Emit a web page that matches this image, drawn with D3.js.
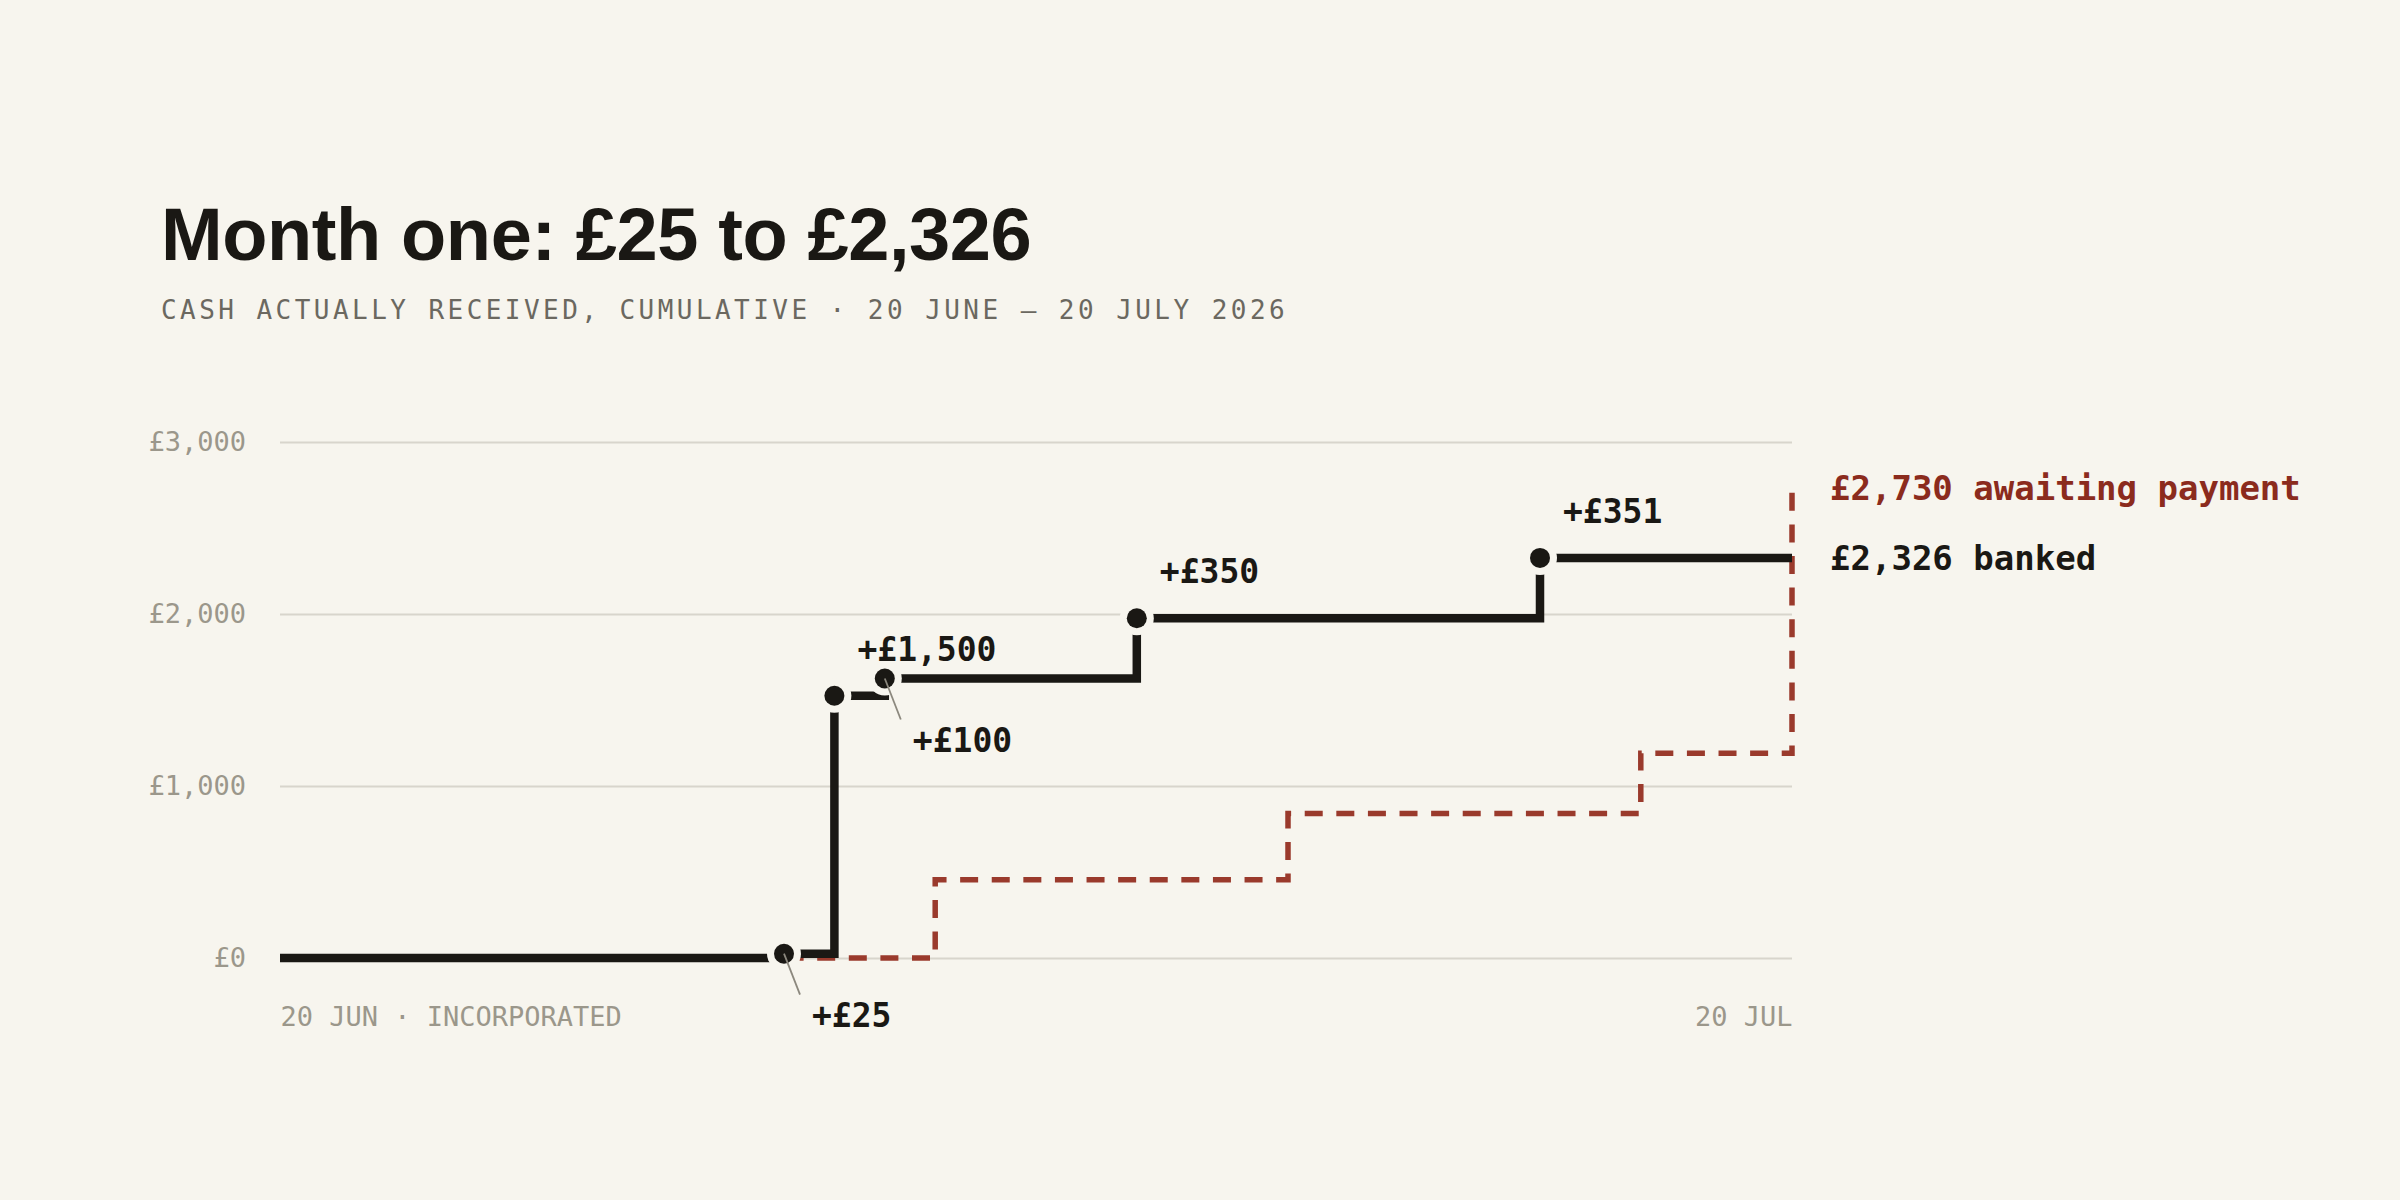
<!DOCTYPE html>
<html>
<head>
<meta charset="utf-8">
<script src="https://cdn.jsdelivr.net/npm/d3@7"></script>
<style>
    html, body { margin: 0; padding: 0; background: #f7f5ee; }
    svg { display: block; }
</style>
</head>
<body>
<svg id="chart" width="2400" height="1200"></svg>
<script>

// banked cash, one row per payment received
var bankedDates = ["2026-06-30", "2026-07-01", "2026-07-02", "2026-07-07", "2026-07-15"];
var bankedAmounts = [25, 1500, 100, 350, 351];
var bankedLabels = ["+£25", "+£1,500", "+£100", "+£350", "+£351"];
// which labels sit under the dot with a leader line
var labelBelow = [true, false, true, false, false];

// invoiced but not yet paid, cumulative
var awaitingDates = ["2026-06-20", "2026-07-03", "2026-07-10", "2026-07-17", "2026-07-20"];
var awaitingTotals = [0, 455, 840, 1190, 2730];

var yTicks = [0, 1000, 2000, 3000];
var startDate = "2026-06-20";
var endDate = "2026-07-20";
var xTickLabels = ["20 JUN · INCORPORATED", "20 JUL"];

var bg = "#f7f5ee";
var ink = "#1a1814";
var red = "#9a3a2c";
var mono = "'DejaVu Sans Mono', monospace";

var parse = d3.timeParse("%Y-%m-%d");
var svg = d3.select("#chart");

var margins = {
    top: 442,
    bottom: 242,
    left: 280,
    right: 608
}
var width = 2400 - margins.left - margins.right;
var height = 1200 - margins.top - margins.bottom;

var x = d3.scaleTime()
    .domain([parse(startDate), parse(endDate)])
    .range([margins.left, margins.left + width]);
var y = d3.scaleLinear()
    .domain([0, 3000])
    .range([margins.top + height, margins.top]);

svg.append("rect")
    .attr("width", 2400)
    .attr("height", 1200)
    .attr("fill", bg);

//title
svg.append("text")
    .attr("x", 161)
    .attr("y", 260)
    .style("font-family", "'Helvetica Neue', Helvetica, Arial, 'Liberation Sans', sans-serif")
    .style("font-size", "74px")
    .style("font-weight", "700")
    .style("letter-spacing", "-0.4px")
    .attr("fill", ink)
    .text("Month one: £25 to £2,326");

svg.append("text")
    .attr("x", 161)
    .attr("y", 319)
    .style("font-family", mono)
    .style("font-size", "26px")
    .style("letter-spacing", "3.45px")
    .attr("fill", "#6b6860")
    .text("CASH ACTUALLY RECEIVED, CUMULATIVE · 20 JUNE — 20 JULY 2026");

// y gridlines + labels
var yAxis = svg.append("g")
    .attr("transform", "translate(" + margins.left + ",0)")
    .call(d3.axisLeft(y)
        .tickValues(yTicks)
        .tickSize(-width)
        .tickPadding(34)
        .tickFormat(d => "£" + d3.format(",")(d)));
yAxis.select(".domain").remove();
yAxis.selectAll(".tick line")
    .attr("stroke", "#d8d5cc")
    .attr("stroke-width", 2);
yAxis.selectAll(".tick text")
    .style("font-family", mono)
    .style("font-size", "27px")
    .attr("fill", "#9b978b");

// x labels, only the two ends
var xAxis = svg.append("g")
    .attr("transform", "translate(0," + (margins.top + height) + ")")
    .call(d3.axisBottom(x)
        .tickValues([parse(startDate), parse(endDate)])
        .tickSize(0)
        .tickPadding(49)
        .tickFormat((d, i) => xTickLabels[i]));
xAxis.select(".domain").remove();
xAxis.selectAll(".tick text")
    .style("font-family", mono)
    .style("font-size", "27px")
    .attr("fill", "#9b978b")
    .attr("text-anchor", (d, i) => i == 0 ? "start" : "end");

// build the cumulative banked series
var banked = [{ date: parse(startDate), total: 0 }];
var running = 0;
bankedDates.forEach(function (d, i) {
    running += bankedAmounts[i];
    banked.push({ date: parse(d), total: running, label: bankedLabels[i], below: labelBelow[i] });
});
banked.push({ date: parse(endDate), total: running });

var awaiting = awaitingDates.map((d, i) => ({ date: parse(d), total: awaitingTotals[i] }));

var line = d3.line()
    .x(d => x(d.date))
    .y(d => y(d.total))
    .curve(d3.curveStepAfter);

svg.append("path")
    .datum(awaiting)
    .attr("d", line)
    .attr("fill", "none")
    .attr("stroke", red)
    .attr("stroke-width", 5.5)
    .attr("stroke-dasharray", "18,13.6");

svg.append("path")
    .datum(banked)
    .attr("d", line)
    .attr("fill", "none")
    .attr("stroke", ink)
    .attr("stroke-width", 8.5)
    .attr("stroke-linejoin", "miter");

var events = banked.filter(d => d.label);

// background halo so the line breaks around each dot
svg.selectAll("circle.halo")
    .data(events)
    .enter().append("circle")
    .attr("class", "halo")
    .attr("cx", d => x(d.date))
    .attr("cy", d => y(d.total))
    .attr("r", 17)
    .attr("fill", bg);

svg.selectAll("circle.dot")
    .data(events)
    .enter().append("circle")
    .attr("class", "dot")
    .attr("cx", d => x(d.date))
    .attr("cy", d => y(d.total))
    .attr("r", 10)
    .attr("fill", ink);

// leader lines for the labels hung underneath
svg.selectAll("line.leader")
    .data(events.filter(d => d.below))
    .enter().append("line")
    .attr("class", "leader")
    .attr("x1", d => x(d.date))
    .attr("y1", d => y(d.total))
    .attr("x2", d => x(d.date) + 16)
    .attr("y2", d => y(d.total) + 41)
    .attr("stroke", "#8c887e")
    .attr("stroke-width", 1.8);

svg.selectAll("text.amount")
    .data(events)
    .enter().append("text")
    .attr("class", "amount")
    .attr("x", d => x(d.date) + (d.below ? 28 : 23))
    .attr("y", d => y(d.total) + (d.below ? 73 : -35))
    .style("font-family", mono)
    .style("font-size", "33px")
    .style("font-weight", "700")
    .attr("fill", ink)
    .text(d => d.label);

// end labels
var last = banked[banked.length - 1];
var lastAwaiting = awaiting[awaiting.length - 1];

svg.append("text")
    .attr("x", x(lastAwaiting.date) + 38)
    .attr("y", y(lastAwaiting.total))
    .attr("dy", "0.35em")
    .style("font-family", mono)
    .style("font-size", "34px")
    .style("font-weight", "700")
    .attr("fill", "#8b2b1d")
    .text("£" + d3.format(",")(lastAwaiting.total) + " awaiting payment");

svg.append("text")
    .attr("x", x(last.date) + 38)
    .attr("y", y(last.total))
    .attr("dy", "0.35em")
    .style("font-family", mono)
    .style("font-size", "34px")
    .style("font-weight", "700")
    .attr("fill", ink)
    .text("£" + d3.format(",")(last.total) + " banked");

</script>
</body>
</html>
